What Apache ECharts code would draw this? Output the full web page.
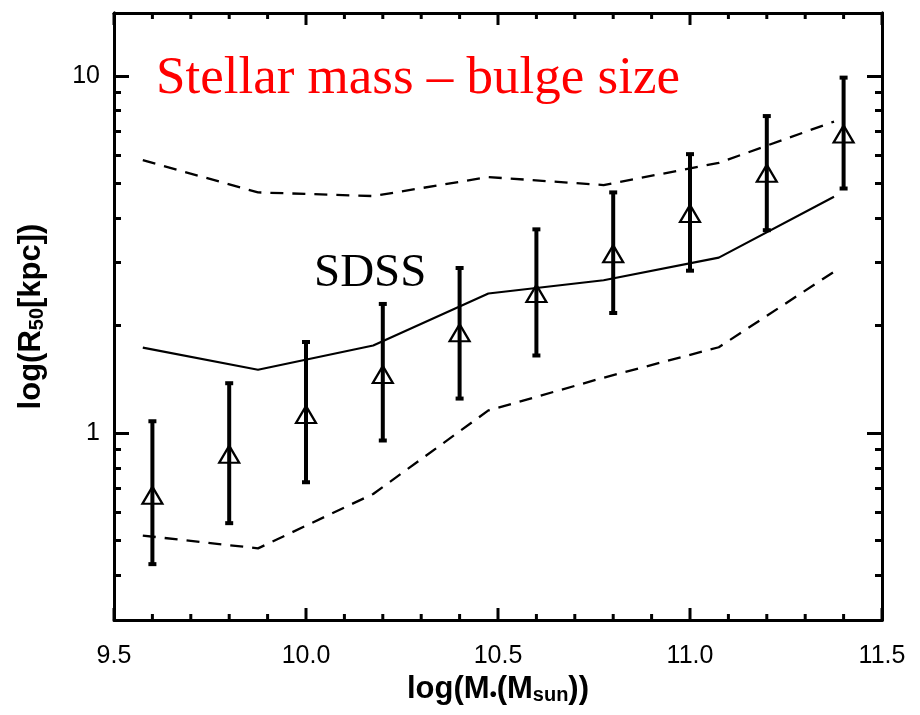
<!DOCTYPE html>
<html>
<head>
<meta charset="utf-8">
<script src="https://cdn.jsdelivr.net/npm/echarts@6/dist/echarts.min.js"></script>
<style>html,body{margin:0;padding:0;background:#fff}#c{width:920px;height:715px}</style>
</head>
<body>
<div id="c"></div>
<script>
// Binned points (triangles with error bars)
const massBins = [9.6, 9.8, 10.0, 10.2, 10.4, 10.6, 10.8, 11.0, 11.2, 11.4];
const bulgeR50 = [0.67, 0.873, 1.128, 1.46, 1.91, 2.46, 3.18, 4.12, 5.34, 6.88];
const bulgeR50Low = [0.43, 0.56, 0.729, 0.954, 1.25, 1.65, 2.17, 2.85, 3.70, 4.84];
const bulgeR50High = [1.08, 1.38, 1.80, 2.30, 2.90, 3.72, 4.72, 6.04, 7.72, 9.89];

// SDSS relation: median (solid) and scatter (dashed)
const sdssMass = [9.575, 9.875, 10.175, 10.475, 10.775, 11.075, 11.375];
const sdssMedian = [1.735, 1.505, 1.76, 2.46, 2.68, 3.10, 4.59];
const sdssUpper = [5.81, 4.72, 4.61, 5.21, 4.95, 5.71, 7.45];
const sdssLower = [0.517, 0.476, 0.676, 1.158, 1.43, 1.74, 2.83];

// Axis ticks
const xMajorTicks = [9.5, 10.0, 10.5, 11.0, 11.5];
const xMinorTicks = [9.6, 9.7, 9.8, 9.9, 10.1, 10.2, 10.3, 10.4, 10.6, 10.7, 10.8, 10.9, 11.1, 11.2, 11.3, 11.4];
const yMajorTicks = [1, 10];
const yMinorTicks = [0.4, 0.5, 0.6, 0.7, 0.8, 0.9, 2, 3, 4, 5, 6, 7, 8, 9];
const xMin = 9.5, xMax = 11.5, xStep = 0.5;
const yMin = 0.3, yMax = 15;

const titleText = 'Stellar mass \u2013 bulge size';
const sdssText = 'SDSS';

const zip = (a, b) => a.map((v, i) => [v, b[i]]);

const chart = echarts.init(document.getElementById('c'));
const sansFont = '"Liberation Sans", Arial, sans-serif';
const serifFont = '"Liberation Serif", "Times New Roman", serif';

const nameRich = {
  t: { fontSize: 31, fontWeight: 'bold', fontFamily: sansFont, color: '#000', lineHeight: 32 },
  s: { fontSize: 20, fontWeight: 'bold', fontFamily: sansFont, color: '#000', lineHeight: 18, verticalAlign: 'bottom' }
};

function yAxisDef(pos, ticks, len, showLabel, extra) {
  return Object.assign({
    type: 'log', logBase: 10, min: yMin, max: yMax, position: pos,
    axisLine: { show: true, lineStyle: { color: '#000', width: 3 } },
    axisTick: { show: true, inside: true, length: len, customValues: ticks, lineStyle: { color: '#000', width: 3 } },
    axisLabel: { show: showLabel, customValues: ticks, fontSize: 25, color: '#000', fontFamily: sansFont, margin: 14 },
    splitLine: { show: false },
    minorTick: { show: false }, minorSplitLine: { show: false }
  }, extra || {});
}
function xAxisDef(pos, showLabel, extra) {
  return Object.assign({
    type: 'value', min: xMin, max: xMax, interval: xStep, position: pos,
    axisLine: { show: true, onZero: false, lineStyle: { color: '#000', width: 3 } },
    axisTick: { show: false },
    minorTick: { show: false },
    axisLabel: { show: showLabel, customValues: xMajorTicks, fontSize: 25, color: '#000', fontFamily: sansFont, margin: 24,
      formatter: v => Number(v).toFixed(1) },
    splitLine: { show: false }
  }, extra || {});
}

// x-axis tick marks (bottom and top, pointing inward), placed through the axis scales
function xTickSeries(values, len) {
  return {
    type: 'custom', z: 1, silent: true,
    data: values.map(v => [v, yMin]),
    encode: { x: 0, y: 1 },
    renderItem: function (params, api) {
      const x = api.value(0);
      const b = api.coord([x, yMin]);
      const t = api.coord([x, yMax]);
      const st = { stroke: '#000', lineWidth: 3 };
      return { type: 'group', children: [
        { type: 'line', shape: { x1: b[0], y1: b[1], x2: b[0], y2: b[1] - len }, style: st },
        { type: 'line', shape: { x1: t[0], y1: t[1], x2: t[0], y2: t[1] + len }, style: st }
      ] };
    }
  };
}

const option = {
  backgroundColor: '#fff',
  animation: false,
  grid: { left: 114, right: 38, top: 13, bottom: 95, containLabel: false },
  xAxis: [
    xAxisDef('bottom', true, {
      name: '{t|log(M}{s|\u2022}{t|(M}{s|sun}{t|))}',
      nameLocation: 'middle', nameGap: 49,
      nameTextStyle: { rich: nameRich }
    }),
    xAxisDef('top', false)
  ],
  yAxis: [
    yAxisDef('left', yMajorTicks, 15, true, {
      name: '{t|log(R}{s|50}{t|[kpc])}',
      nameLocation: 'middle', nameGap: 67, nameRotate: 90,
      nameTextStyle: { rich: nameRich }
    }),
    yAxisDef('left', yMinorTicks, 7, false),
    yAxisDef('right', yMajorTicks, 15, false),
    yAxisDef('right', yMinorTicks, 7, false)
  ],
  series: [
    xTickSeries(xMajorTicks, 12),
    xTickSeries(xMinorTicks, 6),
    { type: 'line', data: zip(sdssMass, sdssMedian), symbol: 'none', z: 2,
      lineStyle: { color: '#000', width: 2.2 } },
    { type: 'line', data: zip(sdssMass, sdssUpper), symbol: 'none', z: 2,
      lineStyle: { color: '#000', width: 2.3, type: [13, 9] } },
    { type: 'line', data: zip(sdssMass, sdssLower), symbol: 'none', z: 2,
      lineStyle: { color: '#000', width: 2.3, type: [13, 9] } },
    { type: 'custom', z: 3,
      data: massBins.map((x, i) => [x, bulgeR50Low[i], bulgeR50High[i]]),
      encode: { x: 0, y: [1, 2] },
      renderItem: function (params, api) {
        const x = api.value(0);
        const lo = api.coord([x, api.value(1)]);
        const hi = api.coord([x, api.value(2)]);
        const cw = 4;
        const st = { stroke: '#000', lineWidth: 4 };
        return { type: 'group', children: [
          { type: 'line', shape: { x1: lo[0], y1: lo[1], x2: hi[0], y2: hi[1] }, style: st },
          { type: 'line', shape: { x1: lo[0] - cw, y1: lo[1], x2: lo[0] + cw, y2: lo[1] }, style: st },
          { type: 'line', shape: { x1: hi[0] - cw, y1: hi[1], x2: hi[0] + cw, y2: hi[1] }, style: st }
        ] };
      }
    },
    { type: 'scatter', z: 4, data: zip(massBins, bulgeR50), symbol: 'triangle', symbolSize: [20, 17],
      itemStyle: { color: 'rgba(0,0,0,0)', borderColor: '#000', borderWidth: 2.2, opacity: 1 } }
  ],
  graphic: [
    { type: 'text', x: 156, y: 79, z: 10,
      style: { text: titleText, fill: '#ff0000', font: '53px ' + serifFont, align: 'left', verticalAlign: 'middle' } },
    { type: 'text', x: 314, y: 274, z: 10,
      style: { text: sdssText, fill: '#000', font: '47px ' + serifFont, align: 'left', verticalAlign: 'middle' } }
  ]
};
chart.setOption(option);
</script>
</body>
</html>
